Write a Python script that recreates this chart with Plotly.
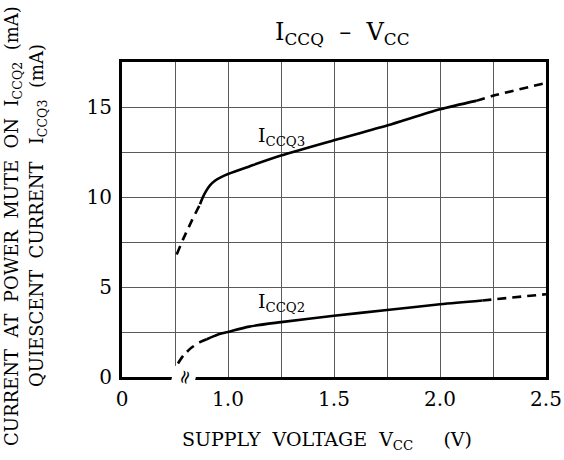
import plotly.graph_objects as go

# ---- data ----
x_tickvals = [0.5, 0.75, 1.0, 1.25, 1.5, 1.75, 2.0, 2.25, 2.5]
x_ticktext = ["0", "", "1.0", "", "1.5", "", "2.0", "", "2.5"]
y_tickvals = [0, 2.5, 5, 7.5, 10, 12.5, 15, 17.5]
y_ticktext = ["0", "", "5", "", "10", "", "15", ""]

# I_CCQ3 (quiescent current)
q3_low_dash_v = [0.758, 0.79, 0.83, 0.868]
q3_low_dash_i = [6.8, 7.7, 8.7, 9.6]
q3_solid_v = [0.868, 0.88, 0.895, 0.915, 0.94, 0.97, 1.0, 1.1, 1.25, 1.5, 1.75, 2.0, 2.17]
q3_solid_i = [9.6, 9.95, 10.3, 10.65, 10.92, 11.12, 11.28, 11.7, 12.3, 13.15, 13.97, 14.87, 15.34]
q3_high_dash_v = [2.17, 2.25, 2.5]
q3_high_dash_i = [15.34, 15.62, 16.34]

# I_CCQ2 (current at power mute on)
q2_low_dash_v = [0.764, 0.79, 0.83, 0.87, 0.9]
q2_low_dash_i = [0.75, 1.2, 1.65, 1.95, 2.1]
q2_solid_v = [0.9, 0.95, 1.0, 1.1, 1.25, 1.5, 1.75, 2.0, 2.2]
q2_solid_i = [2.1, 2.35, 2.5, 2.8, 3.05, 3.4, 3.72, 4.04, 4.25]
q2_high_dash_v = [2.2, 2.5]
q2_high_dash_i = [4.25, 4.6]

# ---- layout geometry ----
W, H = 564, 460
L, R, T, B = 122, 18, 62, 83
PW, PH = W - L - R, H - T - B

def px(xp):
    return (xp - L) / PW

def py(yp):
    return (H - B - yp) / PH

FONT = "DejaVu Serif"
DASH = "9px,6px"

fig = go.Figure()

def add(v, i, dash):
    fig.add_trace(go.Scatter(
        x=v, y=i, mode="lines",
        line=dict(color="black", width=2.6, dash=dash, shape="spline", smoothing=0.8),
        showlegend=False, hoverinfo="skip", cliponaxis=False))

add(q3_low_dash_v, q3_low_dash_i, DASH)
add(q3_solid_v, q3_solid_i, "solid")
add(q3_high_dash_v, q3_high_dash_i, DASH)
add(q2_low_dash_v, q2_low_dash_i, DASH)
add(q2_solid_v, q2_solid_i, "solid")
add(q2_high_dash_v, q2_high_dash_i, DASH)

fig.update_layout(
    width=W, height=H,
    margin=dict(l=L, r=R, t=T, b=B, autoexpand=False),
    paper_bgcolor="white", plot_bgcolor="white",
    font=dict(family=FONT, color="black"),
    xaxis=dict(
        range=[0.5, 2.5], tickvals=x_tickvals, ticktext=x_ticktext,
        showgrid=True, gridcolor="#5a5a5a", gridwidth=1.2,
        showline=True, linecolor="black", linewidth=3, mirror=True,
        ticks="", tickfont=dict(size=20, family=FONT), ticklabelstandoff=2,
        zeroline=False, automargin=False,
    ),
    yaxis=dict(
        range=[0, 17.5], tickvals=y_tickvals, ticktext=y_ticktext,
        showgrid=True, gridcolor="#5a5a5a", gridwidth=1.2,
        showline=True, linecolor="black", linewidth=3, mirror=True,
        ticks="", tickfont=dict(size=20, family=FONT), ticklabelstandoff=3,
        zeroline=False, automargin=False,
    ),
)

ann = []
# title
ann.append(dict(text="I<sub>CCQ</sub>  –  V<sub>CC</sub>", x=px(342), y=py(33),
                xref="paper", yref="paper", showarrow=False,
                font=dict(size=24, family=FONT), xanchor="center", yanchor="middle"))
# x-axis title
ann.append(dict(text="SUPPLY  VOLTAGE  V<sub>CC</sub>     (V)", x=px(327), y=py(440),
                xref="paper", yref="paper", showarrow=False,
                font=dict(size=19, family=FONT), xanchor="center", yanchor="middle"))
# y-axis title (two lines)
ann.append(dict(text="CURRENT  AT  POWER  MUTE  ON  I<sub>CCQ2</sub>  (mA)", x=px(13), y=py(226),
                xref="paper", yref="paper", showarrow=False, textangle=-90,
                font=dict(size=18, family=FONT), xanchor="center", yanchor="middle"))
ann.append(dict(text="QUIESCENT  CURRENT   I<sub>CCQ3</sub>  (mA)", x=px(38), y=py(216),
                xref="paper", yref="paper", showarrow=False, textangle=-90,
                font=dict(size=18, family=FONT), xanchor="center", yanchor="middle"))
# curve labels
ann.append(dict(text="I<sub>CCQ3</sub>", x=px(281), y=py(136),
                xref="paper", yref="paper", showarrow=False,
                font=dict(size=19, family=FONT), xanchor="center", yanchor="middle"))
ann.append(dict(text="I<sub>CCQ2</sub>", x=px(281), y=py(302),
                xref="paper", yref="paper", showarrow=False,
                font=dict(size=19, family=FONT), xanchor="center", yanchor="middle"))
# axis break mark
ann.append(dict(text="≈", x=px(184), y=py(377),
                xref="paper", yref="paper", showarrow=False, textangle=-75,
                bgcolor="white", borderpad=0,
                font=dict(size=19, family=FONT), xanchor="center", yanchor="middle"))

fig.update_layout(annotations=ann)
fig.write_html("out.html", config={"displayModeBar": False},
               post_script="document.body.style.margin='0';document.body.style.padding='0';")
